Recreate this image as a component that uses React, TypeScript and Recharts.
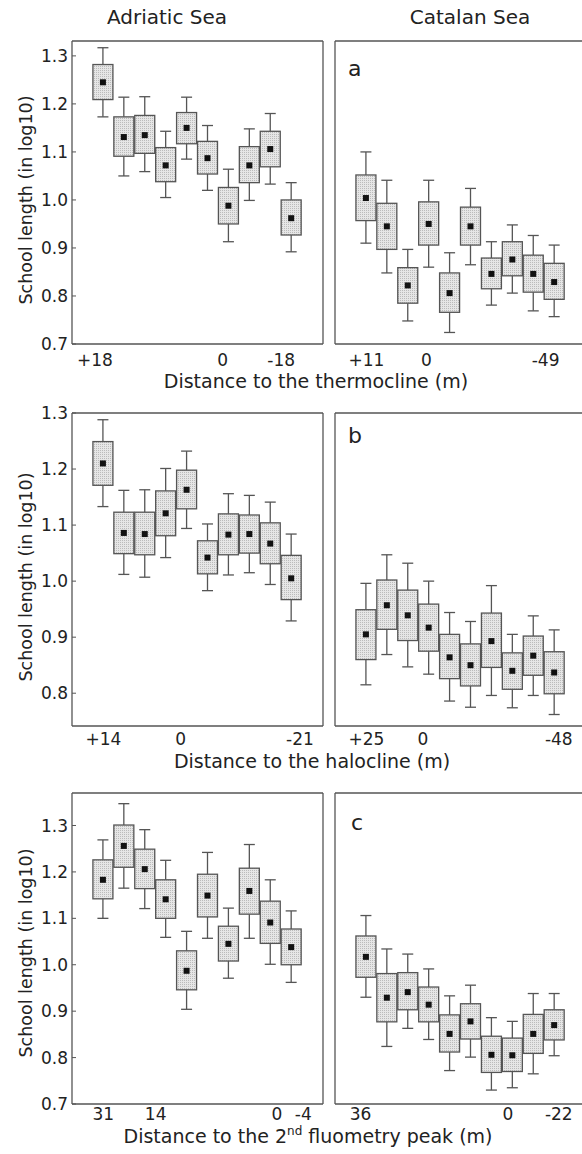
import { ComposedChart, Bar, XAxis, YAxis } from "recharts";

const FONT = "'DejaVu Sans', Verdana, sans-serif";
const INK = "#222";
const FRAME = "#555";

// each box: [whisker low, box low, mean, box high, whisker high]
const adriaticThermocline = [
  [1.173, 1.209, 1.245, 1.282, 1.317],
  [1.05, 1.091, 1.131, 1.173, 1.214],
  [1.059, 1.097, 1.135, 1.176, 1.215],
  [1.005, 1.038, 1.072, 1.109, 1.143],
  [1.085, 1.117, 1.15, 1.182, 1.214],
  [1.02, 1.054, 1.087, 1.122, 1.155],
  [0.913, 0.95, 0.988, 1.026, 1.064],
  [0.999, 1.036, 1.072, 1.111, 1.148],
  [1.033, 1.069, 1.106, 1.143, 1.18],
  [0.892, 0.927, 0.962, 1.0, 1.036],
];
const catalanThermocline = [
  [0.91, 0.957, 1.004, 1.052, 1.1],
  [0.848, 0.897, 0.945, 0.993, 1.041],
  [0.748, 0.785, 0.822, 0.859, 0.897],
  [0.86, 0.906, 0.95, 0.996, 1.041],
  [0.724, 0.766, 0.806, 0.848, 0.89],
  [0.865, 0.906, 0.945, 0.985, 1.024],
  [0.781, 0.815, 0.846, 0.879, 0.913],
  [0.806, 0.842, 0.876, 0.913, 0.948],
  [0.769, 0.808, 0.846, 0.885, 0.926],
  [0.757, 0.793, 0.829, 0.868, 0.906],
];
const adriaticHalocline = [
  [1.133, 1.171, 1.21, 1.249, 1.288],
  [1.012, 1.049, 1.086, 1.123, 1.162],
  [1.007, 1.047, 1.084, 1.123, 1.163],
  [1.042, 1.081, 1.121, 1.161, 1.201],
  [1.094, 1.129, 1.163, 1.198, 1.232],
  [0.983, 1.013, 1.042, 1.072, 1.102],
  [1.011, 1.047, 1.083, 1.12, 1.156],
  [1.015, 1.05, 1.084, 1.118, 1.153],
  [0.994, 1.031, 1.067, 1.104, 1.141],
  [0.929, 0.967, 1.005, 1.046, 1.084],
];
const catalanHalocline = [
  [0.815, 0.86, 0.905, 0.949, 0.996],
  [0.869, 0.914, 0.957, 1.002, 1.047],
  [0.847, 0.894, 0.939, 0.984, 1.032],
  [0.834, 0.875, 0.917, 0.959, 1.0],
  [0.786, 0.826, 0.864, 0.905, 0.944],
  [0.775, 0.813, 0.85, 0.888, 0.928],
  [0.796, 0.846, 0.893, 0.943, 0.992],
  [0.774, 0.807, 0.84, 0.872, 0.905],
  [0.796, 0.832, 0.867, 0.902, 0.938],
  [0.762, 0.799, 0.837, 0.874, 0.913],
];
const adriaticFluo = [
  [1.1, 1.142, 1.183, 1.226, 1.269],
  [1.165, 1.21, 1.256, 1.301, 1.347],
  [1.121, 1.164, 1.206, 1.249, 1.291],
  [1.059, 1.1, 1.141, 1.183, 1.225],
  [0.904, 0.946, 0.987, 1.03, 1.072],
  [1.057, 1.103, 1.149, 1.195, 1.242],
  [0.971, 1.008, 1.045, 1.083, 1.122],
  [1.057, 1.109, 1.159, 1.208, 1.259],
  [1.001, 1.046, 1.091, 1.137, 1.183],
  [0.962, 1.0, 1.038, 1.077, 1.116],
];
const catalanFluo = [
  [0.93, 0.973, 1.017, 1.062, 1.106],
  [0.824, 0.877, 0.929, 0.981, 1.034],
  [0.863, 0.903, 0.941, 0.983, 1.023],
  [0.839, 0.877, 0.914, 0.952, 0.991],
  [0.772, 0.812, 0.851, 0.892, 0.933],
  [0.801, 0.84, 0.878, 0.916, 0.956],
  [0.73, 0.768, 0.806, 0.846, 0.886],
  [0.735, 0.77, 0.805, 0.842, 0.878],
  [0.765, 0.809, 0.851, 0.893, 0.938],
  [0.804, 0.838, 0.87, 0.903, 0.938],
];

// x tick labels and where they sit, in box-index units
const adrThermoLabels = ["+18", "0", "-18"];
const adrThermoPos = [-0.4, 5.7, 8.5];
const catThermoLabels = ["+11", "0", "-49"];
const catThermoPos = [0, 2.87, 8.57];
const adrHaloLabels = ["+14", "0", "-21"];
const adrHaloPos = [0, 3.7, 9.4];
const catHaloLabels = ["+25", "0", "-48"];
const catHaloPos = [0, 2.7, 9.2];
const adrFluoLabels = ["31", "14", "0", "-4"];
const adrFluoPos = [0, 2.5, 8.3, 9.56];
const catFluoLabels = ["36", "0", "-22"];
const catFluoPos = [-0.28, 6.77, 9.2];

const tickSlots = [-1, 0, 1, 2, 3, 4, 5, 6, 7, 8, 9, 10];
const X_DOMAIN: [number, number] = [-1.5, 10.5];
const yTicksFull = [0.7, 0.8, 0.9, 1.0, 1.1, 1.2, 1.3];
const yTicksHalo = [0.8, 0.9, 1.0, 1.1, 1.2, 1.3];

const PLOT_W = 251;
const PAD_TOP = 12;

const BoxShape = (props: any) => {
  const { x, y, width, height, payload } = props;
  if (!payload || !payload.box) return null;
  const [lo, hi] = payload.box;
  const k = height / (hi - lo);
  const cx = x + width / 2;
  const yHi = y;
  const yLo = y + height;
  const yWh = yHi - (payload.wh - hi) * k;
  const yWl = yLo + (lo - payload.wl) * k;
  const yM = yHi + (hi - payload.mean) * k;
  const st = { stroke: FRAME, strokeWidth: 1.3 };
  return (
    <g>
      <line x1={cx} x2={cx} y1={yWh} y2={yHi} {...st} />
      <line x1={cx} x2={cx} y1={yLo} y2={yWl} {...st} />
      <line x1={cx - 5.5} x2={cx + 5.5} y1={yWh} y2={yWh} {...st} />
      <line x1={cx - 5.5} x2={cx + 5.5} y1={yWl} y2={yWl} {...st} />
      <rect x={x} y={yHi} width={width} height={height} fill="url(#dots)" {...st} />
      <rect x={cx - 3} y={yM - 3} width={6} height={6} fill="#111" />
    </g>
  );
};

interface PanelProps {
  stats: number[][];
  labels: string[];
  labelPos: number[];
  yDomain: [number, number];
  yTicks: number[];
  left: number;
  top: number;
  plotH: number;
  showY: boolean;
  labelGap: number;
}

const Panel = ({ stats, labels, labelPos, yDomain, yTicks, left, top, plotH, showY, labelGap }: PanelProps) => {
  const yw = showY ? 72 : 1;
  const rows = [
    { i: -1 },
    ...stats.map((s, k) => ({ i: k, box: [s[1], s[3]], wl: s[0], mean: s[2], wh: s[4] })),
    { i: 10 },
  ];
  const w = yw + PLOT_W + 1;
  const h = PAD_TOP + 1 + plotH + 1 + 34;
  const line = { stroke: FRAME, strokeWidth: 1.3 };
  const tickLine = { stroke: FRAME, strokeWidth: 1 };
  const tickFont = { fill: INK, fontSize: 17, fontFamily: FONT };
  return (
    <div style={{ position: "absolute", left: left - yw, top: top - 1 - PAD_TOP }}>
      <ComposedChart width={w} height={h} data={rows} margin={{ top: PAD_TOP, right: 0, bottom: 0, left: 0 }}>
        <XAxis xAxisId="a_top" orientation="top" dataKey="i" type="number" domain={X_DOMAIN} allowDataOverflow
          ticks={tickSlots} interval={0} tick={false} tickSize={-4} height={1} axisLine={line} tickLine={tickLine} />
        <XAxis xAxisId="b_bot" orientation="bottom" dataKey="i" type="number" domain={X_DOMAIN} allowDataOverflow
          ticks={tickSlots} interval={0} tick={false} tickSize={-4} height={1} axisLine={line} tickLine={tickLine} />
        <XAxis xAxisId="c_lab" orientation="bottom" dataKey="i" type="number" domain={X_DOMAIN} allowDataOverflow
          ticks={labelPos} interval={0} axisLine={false} tickLine={false} tickSize={0} tickMargin={labelGap}
          height={32} tick={tickFont} tickFormatter={(v: number) => labels[labelPos.indexOf(v)] ?? ""} />
        <XAxis xAxisId="d_cat" orientation="top" dataKey="i" type="category" hide height={0} />
        <YAxis yAxisId="l" domain={yDomain} allowDataOverflow ticks={yTicks} interval={0}
          tick={showY ? tickFont : false} tickSize={-4} tickMargin={8} width={yw}
          axisLine={line} tickLine={tickLine} tickFormatter={(v: number) => v.toFixed(1)} />
        <YAxis yAxisId="r" orientation="right" domain={yDomain} allowDataOverflow ticks={yTicks} interval={0}
          tick={false} tickSize={-4} width={1} axisLine={line} tickLine={tickLine} />
        <Bar xAxisId="d_cat" yAxisId="l" dataKey="box" barSize={20} shape={BoxShape} isAnimationActive={false} />
      </ComposedChart>
    </div>
  );
};

const txt = { fontFamily: FONT, fill: INK };

export default function App() {
  return (
    <div style={{ position: "absolute", left: 0, top: 0, width: 582, height: 1154, overflow: "hidden", background: "#fff" }}>
      <svg width={0} height={0} style={{ position: "absolute" }}>
        <defs>
          <pattern id="dots" width={2} height={2} patternUnits="userSpaceOnUse">
            <rect width={2} height={2} fill="#e6e6e6" />
            <rect width={1} height={1} fill="#bbbbbb" />
          </pattern>
        </defs>
      </svg>

      <Panel stats={adriaticThermocline} labels={adrThermoLabels} labelPos={adrThermoPos} yDomain={[0.7, 1.331]}
        yTicks={yTicksFull} left={72} top={41} plotH={301} showY labelGap={9} />
      <Panel stats={catalanThermocline} labels={catThermoLabels} labelPos={catThermoPos} yDomain={[0.7, 1.331]}
        yTicks={yTicksFull} left={335} top={41} plotH={301} showY={false} labelGap={9} />
      <Panel stats={adriaticHalocline} labels={adrHaloLabels} labelPos={adrHaloPos} yDomain={[0.7415, 1.3]}
        yTicks={yTicksHalo} left={72} top={413} plotH={311} showY labelGap={6} />
      <Panel stats={catalanHalocline} labels={catHaloLabels} labelPos={catHaloPos} yDomain={[0.7415, 1.3]}
        yTicks={yTicksHalo} left={335} top={413} plotH={311} showY={false} labelGap={6} />
      <Panel stats={adriaticFluo} labels={adrFluoLabels} labelPos={adrFluoPos} yDomain={[0.7, 1.37]}
        yTicks={yTicksFull} left={72} top={793} plotH={309} showY labelGap={3} />
      <Panel stats={catalanFluo} labels={catFluoLabels} labelPos={catFluoPos} yDomain={[0.7, 1.37]}
        yTicks={yTicksFull} left={335} top={793} plotH={309} showY={false} labelGap={3} />

      <svg width={582} height={1154} style={{ position: "absolute", left: 0, top: 0, pointerEvents: "none" }}>
        <text x={167} y={24} textAnchor="middle" fontSize={20} {...txt}>Adriatic Sea</text>
        <text x={470} y={24} textAnchor="middle" fontSize={20} {...txt}>Catalan Sea</text>

        <text x={26} y={200} textAnchor="middle" dominantBaseline="central" fontSize={17.5} transform="rotate(-90 26 200)" {...txt}>School length (in log10)</text>
        <text x={26} y={577} textAnchor="middle" dominantBaseline="central" fontSize={17.5} transform="rotate(-90 26 577)" {...txt}>School length (in log10)</text>
        <text x={26} y={953} textAnchor="middle" dominantBaseline="central" fontSize={17.5} transform="rotate(-90 26 953)" {...txt}>School length (in log10)</text>

        <text x={316} y={388} textAnchor="middle" fontSize={19} {...txt}>Distance to the thermocline (m)</text>
        <text x={312} y={768} textAnchor="middle" fontSize={19} {...txt}>Distance to the halocline (m)</text>
        <text x={308} y={1143} textAnchor="middle" fontSize={19} {...txt}>
          Distance to the 2<tspan fontSize={12} dy={-8}>nd</tspan><tspan dy={8}> fluometry peak (m)</tspan>
        </text>

        <text x={348} y={76} fontSize={22} {...txt}>a</text>
        <text x={348} y={443} fontSize={22} {...txt}>b</text>
        <text x={351} y={830} fontSize={22} {...txt}>c</text>
      </svg>
    </div>
  );
}
